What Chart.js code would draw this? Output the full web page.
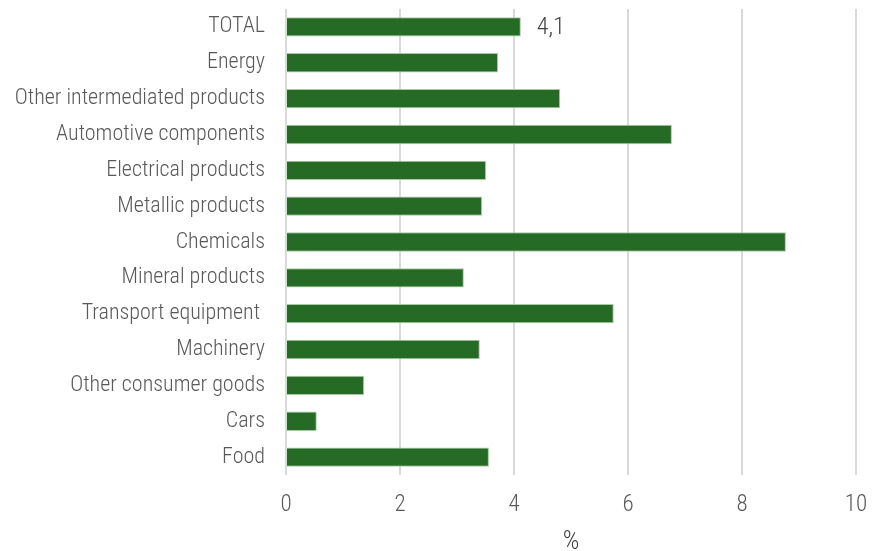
<!DOCTYPE html>
<html lang="en">
  <head>
    <meta charset="UTF-8" />
    <title>Sectors</title>
    <script src="https://cdn.jsdelivr.net/npm/chart.js"></script>
    <style>
      body { margin: 0; background: #fff; }
    </style>
  </head>
  <body>
    <canvas id="sectorChart" width="881" height="551"></canvas>

    <script>
      const sectors = [
        "TOTAL",
        "Energy",
        "Other intermediated products",
        "Automotive components",
        "Electrical products",
        "Metallic products",
        "Chemicals",
        "Mineral products",
        "Transport equipment ",
        "Machinery",
        "Other consumer goods",
        "Cars",
        "Food",
      ];
      const values = [4.12, 3.72, 4.81, 6.77, 3.51, 3.44, 8.77, 3.12, 5.75, 3.4, 1.37, 0.54, 3.56];
      const xTicks = [0, 2, 4, 6, 8, 10];

      const fontFamily = "'Liberation Sans Narrow', 'Roboto Condensed', Roboto, sans-serif";

      // label after the TOTAL bar only
      const totalLabel = {
        id: "totalLabel",
        afterDatasetsDraw(chart) {
          const bar = chart.getDatasetMeta(0).data[0];
          const c = chart.ctx;
          c.save();
          c.font = "300 24px " + fontFamily;
          c.fillStyle = "#404040";
          c.textBaseline = "middle";
          c.fillText(values[0].toFixed(1).replace(".", ","), bar.x + 16, bar.y + 1);
          c.restore();
        },
      };

      const ctx = document.getElementById("sectorChart").getContext("2d");
      new Chart(ctx, {
        type: "bar",
        data: {
          labels: sectors,
          datasets: [
            {
              data: values,
              backgroundColor: "#256b25",
              borderColor: "#a9c9a4",
              borderWidth: 1,
              categoryPercentage: 1,
              barPercentage: 0.54,
            },
          ],
        },
        options: {
          indexAxis: "y",
          responsive: false,
          animation: false,
          layout: { padding: { top: 9, right: 25, left: 0, bottom: 0 } },
          plugins: { legend: { display: false }, tooltip: { enabled: false } },
          scales: {
            x: {
              min: 0,
              max: 10,
              afterBuildTicks(scale) {
                scale.ticks = xTicks.map((v) => ({ value: v }));
              },
              afterFit(scale) {
                scale.height = 76;
                scale.paddingRight = 0;
                scale.paddingLeft = 0;
              },
              grid: { color: "#d9d9d9", lineWidth: 2, drawTicks: false },
              border: { display: false },
              ticks: {
                padding: 16,
                color: "#595959",
                font: { family: fontFamily, size: 23, weight: 300 },
              },
              title: {
                display: true,
                text: "%",
                color: "#404040",
                padding: { top: 12, bottom: -7 },
                font: { family: fontFamily, size: 26, weight: 300 },
              },
            },
            y: {
              afterFit(scale) {
                scale.width = 286;
                scale.paddingTop = 0;
                scale.paddingBottom = 0;
              },
              grid: { display: false, drawTicks: false },
              border: { display: false },
              ticks: {
                padding: 21,
                color: "#595959",
                font: { family: fontFamily, size: 22, weight: 300 },
              },
            },
          },
        },
        plugins: [totalLabel],
      });
    </script>
  </body>
</html>
